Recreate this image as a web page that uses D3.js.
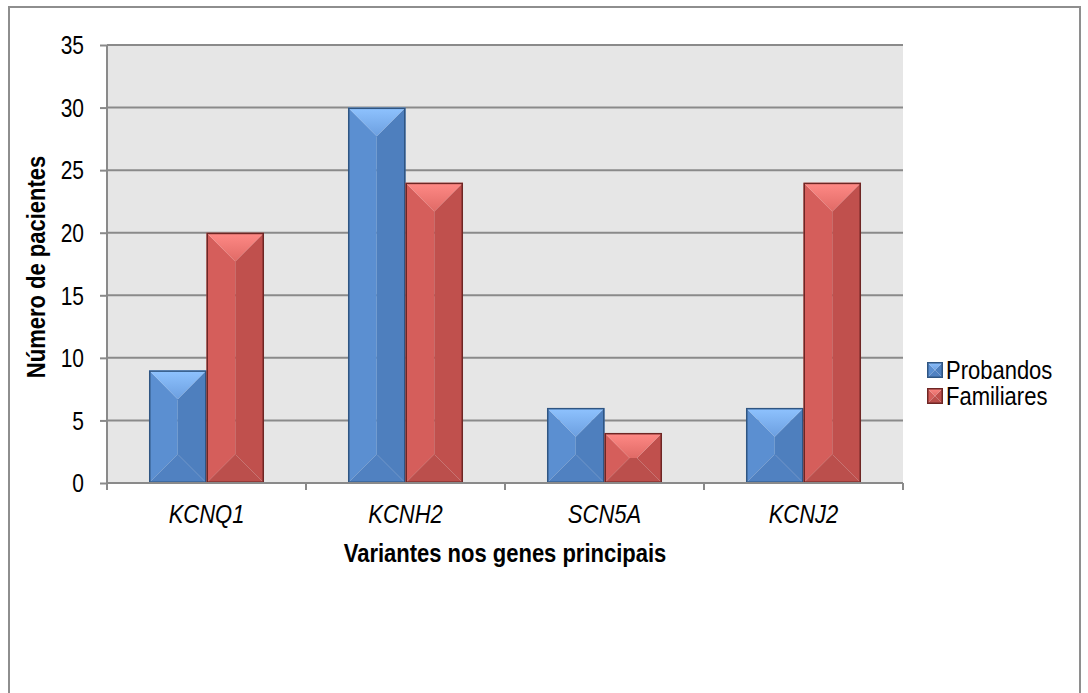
<!DOCTYPE html>
<html>
<head>
<meta charset="utf-8">
<script src="https://cdn.jsdelivr.net/npm/d3@7"></script>
<style>
  html, body { margin: 0; padding: 0; background: #ffffff; }
  svg { display: block; }
  text { font-family: "Liberation Sans", Arial, sans-serif; fill: #000; }
</style>
</head>
<body>
<svg id="chart" width="1088" height="693"></svg>
<script>
// Gene variants: probands vs. relatives
const categories = ["KCNQ1", "KCNH2", "SCN5A", "KCNJ2"];
const probandos = [9, 30, 6, 6];
const familiares = [20, 24, 4, 24];
const seriesNames = ["Probandos", "Familiares"];
const yTicks = [0, 5, 10, 15, 20, 25, 30, 35];
const yTitle = "Número de pacientes";
const xTitle = "Variantes nos genes principais";

const svg = d3.select("#chart");
const plot = { left: 107, right: 903, top: 45, bottom: 483 };
const FS = 25;          // font size
const NARROW = 0.88;    // horizontal condensing of text
const NARROW_DIGITS = 0.84;

// Bevelled face colours for each series
const palettes = [
  { top0: "#8fc3ff", top1: "#6c9fe0", left: "#5b8fd1", right: "#4e7fbe", bottom: "#5081c1", edge: "#2f5582" },
  { top0: "#ff8a86", top1: "#e06a66", left: "#d55e5b", right: "#c0504d", bottom: "#bb4f4c", edge: "#6e2624" }
];

const defs = svg.append("defs");
palettes.forEach((p, i) => {
  const gr = defs.append("linearGradient").attr("id", "topGrad" + i)
    .attr("x1", 0).attr("y1", 0).attr("x2", 0).attr("y2", 1);
  gr.append("stop").attr("offset", "0%").attr("stop-color", p.top0);
  gr.append("stop").attr("offset", "100%").attr("stop-color", p.top1);
});

// Condensed text helper
function label(parent, x, y, str, opts = {}) {
  const sx = opts.sx || NARROW;
  const rot = opts.rotate ? ` rotate(${opts.rotate})` : "";
  return parent.append("text")
    .attr("transform", `translate(${x},${y})${rot} scale(${sx},1)`)
    .attr("text-anchor", opts.anchor || "start")
    .attr("font-size", FS)
    .attr("font-weight", opts.bold ? "bold" : "normal")
    .attr("font-style", opts.italic ? "italic" : "normal")
    .text(str);
}

// Outer chart frame
svg.append("rect")
  .attr("x", 9).attr("y", 7).attr("width", 1071).attr("height", 700)
  .attr("fill", "#ffffff").attr("stroke", "#8e8e8e").attr("stroke-width", 2);

// Plot background
svg.append("rect")
  .attr("x", plot.left).attr("y", plot.top)
  .attr("width", plot.right - plot.left).attr("height", plot.bottom - plot.top)
  .attr("fill", "#e6e6e6");

const y = d3.scaleLinear().domain([0, 35]).range([plot.bottom, plot.top]);
const x0 = d3.scaleBand().domain(categories).range([plot.left, plot.right])
  .paddingInner(0.422).paddingOuter(0.211);
const x1 = d3.scaleBand().domain(seriesNames).range([0, x0.bandwidth()]).padding(0);

// Horizontal gridlines
svg.append("g").selectAll("line").data(yTicks.filter(t => t > 0)).join("line")
  .attr("x1", plot.left).attr("x2", plot.right)
  .attr("y1", d => y(d)).attr("y2", d => y(d))
  .attr("stroke", "#8a8a8a").attr("stroke-width", 2);

// Y axis
const yAxis = d3.axisLeft(y).tickValues(yTicks).tickSize(7).tickPadding(16);
const gy = svg.append("g").attr("transform", `translate(${plot.left},0)`).call(yAxis);
gy.select(".domain").attr("stroke", "#8a8a8a").attr("stroke-width", 2)
  .attr("d", `M0,${plot.bottom}V${plot.top}`);
gy.selectAll(".tick line").attr("stroke", "#8a8a8a").attr("stroke-width", 2);
gy.selectAll(".tick text")
  .attr("font-size", FS).attr("fill", "#000")
  .style("font-family", "'Liberation Sans', Arial, sans-serif")
  .attr("x", -23 / NARROW_DIGITS).attr("dy", "0.35em")
  .attr("transform", `scale(${NARROW_DIGITS},1)`);

// Bevelled bar
function bevelBar(g, bx, by, w, h, p, gi) {
  const d = Math.min(w / 2, h / 2);
  const xa = bx, xb = bx + w, ya = by, yb = by + h;
  const poly = pts => pts.map(q => q.join(",")).join(" ");
  g.append("polygon").attr("points", poly([[xa, ya], [xa + d, ya + d], [xa + d, yb - d], [xa, yb]])).attr("fill", p.left);
  g.append("polygon").attr("points", poly([[xb, ya], [xb - d, ya + d], [xb - d, yb - d], [xb, yb]])).attr("fill", p.right);
  g.append("rect").attr("x", xa + d).attr("y", ya + d).attr("width", Math.max(0, w - 2 * d)).attr("height", Math.max(0, h - 2 * d)).attr("fill", p.left);
  g.append("polygon").attr("points", poly([[xa, yb], [xb, yb], [xb - d, yb - d], [xa + d, yb - d]])).attr("fill", p.bottom);
  g.append("polygon").attr("points", poly([[xa, ya], [xb, ya], [xb - d, ya + d], [xa + d, ya + d]])).attr("fill", `url(#topGrad${gi})`);
  g.append("rect").attr("x", xa + 0.75).attr("y", ya + 0.75).attr("width", w - 1.5).attr("height", h - 1.5)
    .attr("fill", "none").attr("stroke", p.edge).attr("stroke-width", 1.5);
}

const seriesData = [probandos, familiares];
const barsG = svg.append("g");
categories.forEach((c, ci) => {
  seriesNames.forEach((s, si) => {
    const v = seriesData[si][ci];
    const bx = x0(c) + x1(s);
    bevelBar(barsG, bx, y(v), x1.bandwidth(), y(0) - y(v), palettes[si], si);
  });
});

// X axis
const xAxisG = svg.append("g");
xAxisG.append("line").attr("x1", plot.left).attr("x2", plot.right)
  .attr("y1", plot.bottom).attr("y2", plot.bottom)
  .attr("stroke", "#8a8a8a").attr("stroke-width", 2);
const boundaries = d3.range(categories.length + 1).map(i => plot.left + i * x0.step());
xAxisG.selectAll("line.tk").data(boundaries).join("line").attr("class", "tk")
  .attr("x1", d => d).attr("x2", d => d)
  .attr("y1", plot.bottom).attr("y2", plot.bottom + 7)
  .attr("stroke", "#8a8a8a").attr("stroke-width", 2);
categories.forEach(c => {
  label(xAxisG, x0(c) + x0.bandwidth() / 2, 523, c, { anchor: "middle", italic: true });
});

// Axis titles
label(svg, (plot.left + plot.right) / 2, 562, xTitle, { anchor: "middle", bold: true });
label(svg, 45, (plot.top + plot.bottom) / 2 + 3, yTitle, { anchor: "middle", bold: true, rotate: -90 });

// Legend
const legend = svg.append("g");
seriesNames.forEach((s, i) => {
  const ly = 370 + i * 26;
  bevelBar(legend, 927, ly - 8, 16, 16, palettes[i], i);
  label(legend, 946, ly + 9, s);
});
</script>
</body>
</html>
